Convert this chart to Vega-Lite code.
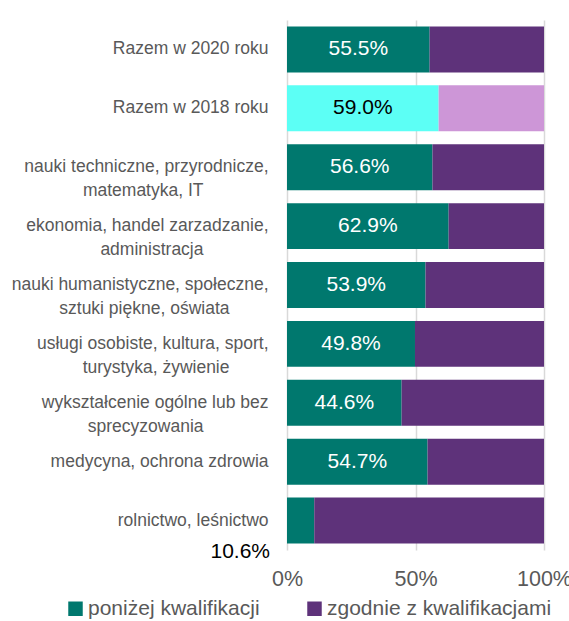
{
  "$schema": "https://vega.github.io/schema/vega-lite/v6.json",
  "autosize": "none",
  "width": 257,
  "height": 530,
  "padding": {"left": 287, "top": 20, "right": 25, "bottom": 71},
  "background": "white",
  "config": {
    "view": {"stroke": null},
    "font": "Liberation Sans, Arial, sans-serif"
  },
  "data": {
    "values": [
      {"cat": "Razem w 2020 roku", "type": "poniżej kwalifikacji", "series": "poniżej kwalifikacji", "value": 0.555},
      {"cat": "Razem w 2020 roku", "type": "zgodnie z kwalifikacjami", "series": "zgodnie z kwalifikacjami", "value": 0.445},
      {"cat": "Razem w 2018 roku", "type": "poniżej kwalifikacji", "series": "poniżej kwalifikacji 2018", "value": 0.590},
      {"cat": "Razem w 2018 roku", "type": "zgodnie z kwalifikacjami", "series": "zgodnie z kwalifikacjami 2018", "value": 0.410},
      {"cat": "nauki techniczne, przyrodnicze,|matematyka, IT\u2800\u2800\u2800\u2800\u2800", "type": "poniżej kwalifikacji", "series": "poniżej kwalifikacji", "value": 0.566},
      {"cat": "nauki techniczne, przyrodnicze,|matematyka, IT\u2800\u2800\u2800\u2800\u2800", "type": "zgodnie z kwalifikacjami", "series": "zgodnie z kwalifikacjami", "value": 0.434},
      {"cat": "ekonomia, handel zarzadzanie,|administracja\u2800\u2800\u2800\u2800\u2800", "type": "poniżej kwalifikacji", "series": "poniżej kwalifikacji", "value": 0.629},
      {"cat": "ekonomia, handel zarzadzanie,|administracja\u2800\u2800\u2800\u2800\u2800", "type": "zgodnie z kwalifikacjami", "series": "zgodnie z kwalifikacjami", "value": 0.371},
      {"cat": "nauki humanistyczne, społeczne,|sztuki piękne, oświata\u2800\u2800\u2800", "type": "poniżej kwalifikacji", "series": "poniżej kwalifikacji", "value": 0.539},
      {"cat": "nauki humanistyczne, społeczne,|sztuki piękne, oświata\u2800\u2800\u2800", "type": "zgodnie z kwalifikacjami", "series": "zgodnie z kwalifikacjami", "value": 0.461},
      {"cat": "usługi osobiste, kultura, sport,|turystyka, żywienie\u2800\u2800\u2800", "type": "poniżej kwalifikacji", "series": "poniżej kwalifikacji", "value": 0.498},
      {"cat": "usługi osobiste, kultura, sport,|turystyka, żywienie\u2800\u2800\u2800", "type": "zgodnie z kwalifikacjami", "series": "zgodnie z kwalifikacjami", "value": 0.502},
      {"cat": "wykształcenie ogólne lub bez|sprecyzowania\u2800\u2800\u2800\u2800\u2800", "type": "poniżej kwalifikacji", "series": "poniżej kwalifikacji", "value": 0.446},
      {"cat": "wykształcenie ogólne lub bez|sprecyzowania\u2800\u2800\u2800\u2800\u2800", "type": "zgodnie z kwalifikacjami", "series": "zgodnie z kwalifikacjami", "value": 0.554},
      {"cat": "medycyna, ochrona zdrowia", "type": "poniżej kwalifikacji", "series": "poniżej kwalifikacji", "value": 0.547},
      {"cat": "medycyna, ochrona zdrowia", "type": "zgodnie z kwalifikacjami", "series": "zgodnie z kwalifikacjami", "value": 0.453},
      {"cat": "rolnictwo, leśnictwo", "type": "poniżej kwalifikacji", "series": "poniżej kwalifikacji", "value": 0.106},
      {"cat": "rolnictwo, leśnictwo", "type": "zgodnie z kwalifikacjami", "series": "zgodnie z kwalifikacjami", "value": 0.894}
    ]
  },
  "encoding": {
    "y": {
      "field": "cat", "type": "nominal", "sort": null, "title": null,
      "scale": {"paddingInner": 0.22, "paddingOuter": 0.11},
      "axis": {
        "domain": false, "ticks": false, "labelPadding": 19,
        "labelExpr": "split(datum.label, '|')",
        "labelFontSize": 17.5, "labelColor": "#595959", "labelLineHeight": 24,
        "labelLimit": 300
      }
    }
  },
  "layer": [
    {
      "mark": {"type": "bar"},
      "encoding": {
        "x": {
          "field": "value", "type": "quantitative", "stack": "zero", "title": null,
          "scale": {"domain": [0, 1]},
          "axis": {
            "values": [0, 0.5, 1], "format": ".0%", "domain": false, "ticks": false,
            "grid": true, "gridColor": "#d9d9d9", "gridWidth": 1.5,
            "labelFontSize": 21.5, "labelColor": "#595959", "labelPadding": 18,
            "labelFlush": false
          }
        },
        "color": {
          "field": "series", "type": "nominal",
          "scale": {
            "domain": ["poniżej kwalifikacji", "zgodnie z kwalifikacjami", "poniżej kwalifikacji 2018", "zgodnie z kwalifikacjami 2018"],
            "range": ["#00786E", "#5E327A", "#5CFFF5", "#CD96D7"]
          },
          "legend": {
            "values": ["poniżej kwalifikacji", "zgodnie z kwalifikacjami"],
            "title": null, "orient": "none", "direction": "horizontal", "columns": 2,
            "legendX": -222, "legendY": 578,
            "symbolType": "square", "symbolSize": 210, "symbolStrokeWidth": 0,
            "labelFontSize": 21, "labelColor": "#595959", "labelOffset": 2,
            "columnPadding": 44, "labelLimit": 400
          }
        },
        "order": {"field": "type", "sort": "ascending"}
      }
    },
    {
      "transform": [{"filter": "datum.type == 'poniżej kwalifikacji' && datum.cat != 'rolnictwo, leśnictwo'"}],
      "mark": {"type": "text", "fontSize": 21, "align": "center", "baseline": "middle"},
      "encoding": {
        "x": {"field": "value", "type": "quantitative", "stack": "zero", "bandPosition": 0.5},
        "text": {"field": "value", "type": "quantitative", "format": ".1%"},
        "color": {
          "condition": {"test": "datum.cat == 'Razem w 2018 roku'", "value": "#000000"},
          "value": "#ffffff"
        }
      }
    },
    {
      "transform": [{"filter": "datum.type == 'poniżej kwalifikacji' && datum.cat == 'rolnictwo, leśnictwo'"}],
      "mark": {"type": "text", "fontSize": 21, "align": "right", "baseline": "middle", "dx": -17, "dy": 31, "color": "#000000"},
      "encoding": {
        "x": {"datum": 0, "type": "quantitative"},
        "text": {"field": "value", "type": "quantitative", "format": ".1%"}
      }
    }
  ]
}
